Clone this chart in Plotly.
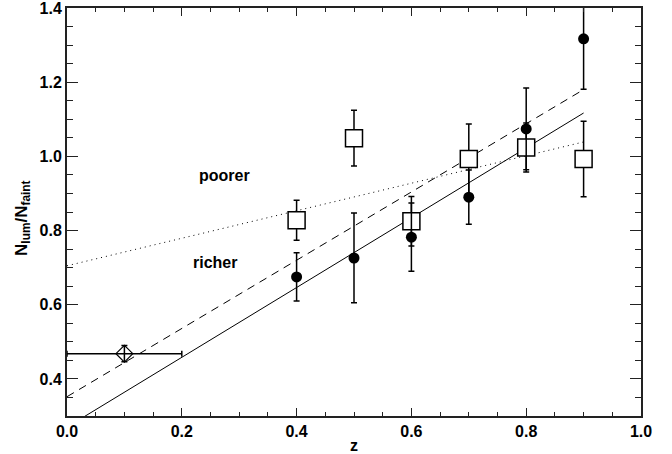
import plotly.graph_objects as go

# Luminous-to-faint ratio versus redshift
z_filled = [0.4, 0.5, 0.6, 0.7, 0.8, 0.9]
ratio_filled = [0.675, 0.726, 0.782, 0.890, 1.074, 1.317]
err_filled = [0.065, 0.121, 0.092, 0.073, 0.110, 0.136]

z_open = [0.4, 0.5, 0.6, 0.7, 0.8, 0.9]
ratio_open = [0.828, 1.049, 0.825, 0.993, 1.024, 0.993]
err_open = [0.054, 0.075, 0.067, 0.094, 0.066, 0.102]

# low-redshift reference point
z_local = [0.1]
ratio_local = [0.468]
err_local_y = [0.022]
err_local_x = [0.1]

# linear fits: ratio = intercept + slope * z
fit_z = [0.0, 0.9]
fit_solid = (0.270, 0.941)
fit_dashed = (0.352, 0.920)
fit_dotted = (0.705, 0.371)

label_text = ["poorer", "richer"]
label_z = [0.275, 0.258]
label_ratio = [0.949, 0.715]

FONT = "Liberation Sans, Arial, Helvetica, sans-serif"
INK = "black"

fig = go.Figure()


def fit_line(params, dash):
    a, b = params
    fig.add_trace(go.Scatter(
        x=fit_z, y=[a + b * z for z in fit_z], mode="lines",
        line=dict(color=INK, width=1, dash=dash),
        hoverinfo="skip", showlegend=False))


fit_line(fit_solid, "solid")
fit_line(fit_dashed, "8px,6px")
fit_line(fit_dotted, "1px,4px")

fig.add_trace(go.Scatter(
    x=z_open, y=ratio_open, mode="markers",
    marker=dict(symbol="square", size=17, color="white",
                line=dict(color=INK, width=1.5)),
    error_y=dict(type="data", array=err_open, color=INK, thickness=1.5, width=3),
    showlegend=False))

fig.add_trace(go.Scatter(
    x=z_local, y=ratio_local, mode="markers",
    marker=dict(symbol="diamond-open", size=13, color=INK,
                line=dict(color=INK, width=1.2)),
    error_y=dict(type="data", array=err_local_y, color=INK, thickness=1.5, width=3),
    error_x=dict(type="data", array=err_local_x, color=INK, thickness=1.5, width=3),
    showlegend=False))

fig.add_trace(go.Scatter(
    x=z_filled, y=ratio_filled, mode="markers",
    marker=dict(symbol="circle", size=11, color=INK),
    error_y=dict(type="data", array=err_filled, color=INK, thickness=1.5, width=3),
    showlegend=False))

for txt, zx, ry in zip(label_text, label_z, label_ratio):
    fig.add_annotation(x=zx, y=ry, text=txt, showarrow=False,
                       font=dict(family=FONT, size=16, color=INK, weight="bold"))

fig.add_annotation(xref="paper", yref="paper", x=-0.078, y=0.486,
                   text="N<sub>lum</sub>/N<sub>faint</sub>", textangle=-90,
                   showarrow=False, xanchor="center", yanchor="middle",
                   font=dict(family=FONT, size=17, color=INK, weight="bold"))

axis_common = dict(
    showgrid=False, zeroline=False, showline=True, linecolor="#222",
    linewidth=2, mirror="ticks", ticks="inside", tickcolor="#222",
    tickwidth=1, tickformat=".1f", automargin=False,
    ticklabeloverflow="allow",
    tickfont=dict(family=FONT, size=16, color=INK, weight="bold"),
)

fig.update_xaxes(range=[0.0, 1.0], dtick=0.2, ticklen=8,
                 minor=dict(dtick=0.05, ticklen=4, ticks="inside",
                            tickcolor="#222", tickwidth=1),
                 title=dict(text="z", standoff=4,
                            font=dict(family=FONT, size=16, color=INK, weight="bold")),
                 **axis_common)
fig.update_yaxes(range=[0.3, 1.4], dtick=0.2, tick0=0.0, ticklen=11,
                 minor=dict(dtick=0.05, ticklen=6, ticks="inside",
                            tickcolor="#222", tickwidth=1),
                 **axis_common)

fig.update_layout(
    width=672, height=454,
    margin=dict(l=67, r=31, t=8, b=38),
    plot_bgcolor="white", paper_bgcolor="white",
    font=dict(family=FONT, color=INK),
)

fig.write_html("out.html")
